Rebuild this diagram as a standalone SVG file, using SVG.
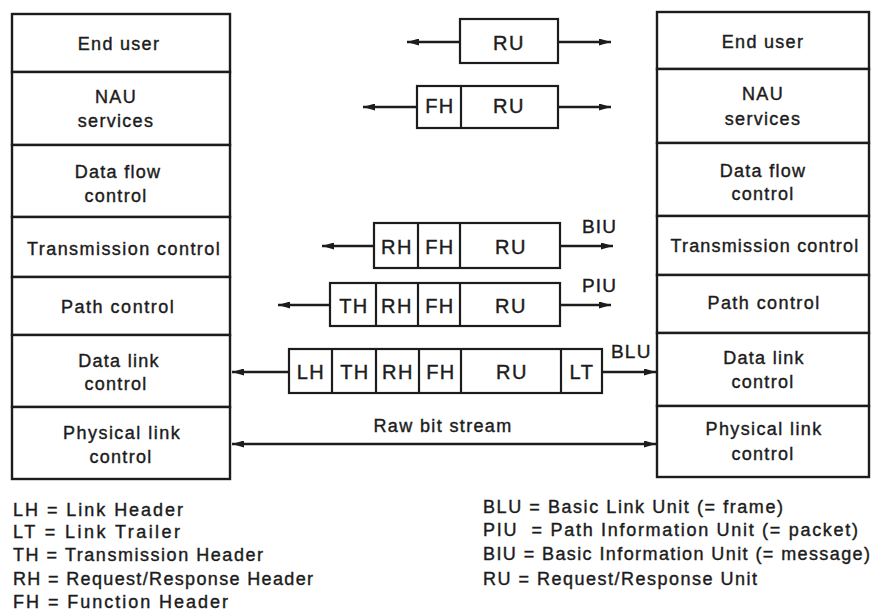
<svg xmlns="http://www.w3.org/2000/svg" width="875" height="616" viewBox="0 0 875 616">
  <defs>
    <marker id="head" viewBox="0 0 12 7" refX="12" refY="3.5" markerWidth="12" markerHeight="7" markerUnits="userSpaceOnUse" orient="auto-start-reverse">
      <path d="M0,0 L12,3.5 L0,7 z" fill="#1c1c1c"/>
    </marker>
    <style>
      .layer { fill: #fff; stroke: #1c1c1c; stroke-width: 2.4; }
      .cell { fill: #fff; stroke: #1c1c1c; stroke-width: 2.2; }
      text { font-family: "Liberation Sans", Arial, sans-serif; fill: #1c1c1c; stroke: #1c1c1c; stroke-width: 0.4; }
      .lbl { font-size: 18px; text-anchor: middle; letter-spacing: 1.3px; }
      .pk { font-size: 20px; text-anchor: middle; letter-spacing: 1.5px; }
      .tag { font-size: 19px; letter-spacing: 1.2px; }
      .leg { font-size: 18px; }
      .flow { fill: none; stroke: #1c1c1c; stroke-width: 2.5; marker-end: url(#head); }
      .flow2 { fill: none; stroke: #1c1c1c; stroke-width: 2.5; marker-start: url(#head); marker-end: url(#head); }
    </style>
  </defs>
  <rect width="875" height="616" fill="#fff"/>

  <!-- Left protocol stack -->
  <g id="left-stack">
    <g id="left-end-user"><rect class="layer" x="12" y="14" width="218" height="58"/><text class="lbl" x="119" y="50">End user</text></g>
    <g id="left-nau"><rect class="layer" x="12" y="72" width="218" height="73"/><text class="lbl" x="116" y="103">NAU</text><text class="lbl" x="116" y="127">services</text></g>
    <g id="left-data-flow"><rect class="layer" x="12" y="145" width="218" height="72"/><text class="lbl" x="118" y="178">Data flow</text><text class="lbl" x="116" y="202">control</text></g>
    <g id="left-transmission"><rect class="layer" x="12" y="217" width="218" height="60"/><text class="lbl" x="124" y="255" textLength="194" lengthAdjust="spacing">Transmission control</text></g>
    <g id="left-path"><rect class="layer" x="12" y="277" width="218" height="58"/><text class="lbl" x="118" y="313" textLength="114" lengthAdjust="spacing">Path control</text></g>
    <g id="left-data-link"><rect class="layer" x="12" y="335" width="218" height="72"/><text class="lbl" x="119" y="367">Data link</text><text class="lbl" x="116" y="390">control</text></g>
    <g id="left-physical"><rect class="layer" x="12" y="407" width="218" height="72"/><text class="lbl" x="122" y="439" textLength="118" lengthAdjust="spacing">Physical link</text><text class="lbl" x="121" y="463">control</text></g>
  </g>

  <!-- Right protocol stack -->
  <g id="right-stack">
    <g id="right-end-user"><rect class="layer" x="657" y="12" width="212" height="57"/><text class="lbl" x="763" y="48">End user</text></g>
    <g id="right-nau"><rect class="layer" x="657" y="69" width="212" height="74"/><text class="lbl" x="763" y="100">NAU</text><text class="lbl" x="763" y="125">services</text></g>
    <g id="right-data-flow"><rect class="layer" x="657" y="143" width="212" height="73"/><text class="lbl" x="763" y="177">Data flow</text><text class="lbl" x="763" y="200">control</text></g>
    <g id="right-transmission"><rect class="layer" x="657" y="216" width="212" height="59"/><text class="lbl" x="765" y="252" textLength="189" lengthAdjust="spacing">Transmission control</text></g>
    <g id="right-path"><rect class="layer" x="657" y="275" width="212" height="58"/><text class="lbl" x="764" y="309" textLength="113" lengthAdjust="spacing">Path control</text></g>
    <g id="right-data-link"><rect class="layer" x="657" y="333" width="212" height="73"/><text class="lbl" x="764" y="364">Data link</text><text class="lbl" x="763" y="388">control</text></g>
    <g id="right-physical"><rect class="layer" x="657" y="406" width="212" height="71"/><text class="lbl" x="764" y="435" textLength="117" lengthAdjust="spacing">Physical link</text><text class="lbl" x="763" y="460">control</text></g>
  </g>

  <!-- Connectors between layers -->
  <g id="connectors">
    <path class="flow" d="M460,42 H407"/>
    <path class="flow" d="M558,42 H611"/>
    <path class="flow" d="M417,107 H363"/>
    <path class="flow" d="M558,107 H611"/>
    <path class="flow" d="M374,246 H322"/>
    <path class="flow" d="M560,246 H613"/>
    <path class="flow" d="M330,305 H278"/>
    <path class="flow" d="M560,305 H611"/>
    <path class="flow" d="M289,372 H232"/>
    <path class="flow" d="M602,372 H656"/>
    <path class="flow2" d="M232,444 H656"/>
  </g>

  <!-- Data units exchanged between peer layers -->
  <g id="unit-ru">
    <rect class="cell" x="460" y="19" width="98" height="44"/>
    <text class="pk" x="509" y="50">RU</text>
  </g>
  <g id="unit-fh-ru">
    <rect class="cell" x="417" y="86" width="141" height="42"/>
    <line class="cell" x1="461" y1="86" x2="461" y2="128"/>
    <text class="pk" x="440" y="113">FH</text>
    <text class="pk" x="509" y="113">RU</text>
  </g>
  <g id="unit-biu">
    <rect class="cell" x="374" y="223" width="186" height="45"/>
    <line class="cell" x1="418" y1="223" x2="418" y2="268"/>
    <line class="cell" x1="460" y1="223" x2="460" y2="268"/>
    <text class="pk" x="397" y="254">RH</text>
    <text class="pk" x="440" y="254">FH</text>
    <text class="pk" x="511" y="254">RU</text>
    <text class="tag" x="582" y="233">BIU</text>
  </g>
  <g id="unit-piu">
    <rect class="cell" x="330" y="283" width="230" height="43"/>
    <line class="cell" x1="376" y1="283" x2="376" y2="326"/>
    <line class="cell" x1="418" y1="283" x2="418" y2="326"/>
    <line class="cell" x1="460" y1="283" x2="460" y2="326"/>
    <text class="pk" x="354" y="313">TH</text>
    <text class="pk" x="397" y="313">RH</text>
    <text class="pk" x="440" y="313">FH</text>
    <text class="pk" x="511" y="313">RU</text>
    <text class="tag" x="582" y="292">PIU</text>
  </g>
  <g id="unit-blu">
    <rect class="cell" x="289" y="349" width="313" height="44"/>
    <line class="cell" x1="332" y1="349" x2="332" y2="393"/>
    <line class="cell" x1="376" y1="349" x2="376" y2="393"/>
    <line class="cell" x1="419" y1="349" x2="419" y2="393"/>
    <line class="cell" x1="461" y1="349" x2="461" y2="393"/>
    <line class="cell" x1="561" y1="349" x2="561" y2="393"/>
    <text class="pk" x="311" y="379">LH</text>
    <text class="pk" x="355" y="379">TH</text>
    <text class="pk" x="398" y="379">RH</text>
    <text class="pk" x="441" y="379">FH</text>
    <text class="pk" x="512" y="379">RU</text>
    <text class="pk" x="582" y="379">LT</text>
    <text class="tag" x="611" y="358">BLU</text>
  </g>
  <g id="raw-bit-stream">
    <text class="lbl" x="443" y="432" textLength="139" lengthAdjust="spacing">Raw bit stream</text>
  </g>

  <!-- Abbreviation key -->
  <g id="key-left">
    <text class="leg" x="13" y="516" textLength="170" lengthAdjust="spacing">LH = Link Header</text>
    <text class="leg" x="13" y="538" textLength="167" lengthAdjust="spacing">LT = Link Trailer</text>
    <text class="leg" x="13" y="561" textLength="250" lengthAdjust="spacing">TH = Transmission Header</text>
    <text class="leg" x="13" y="585" textLength="300" lengthAdjust="spacing">RH = Request/Response Header</text>
    <text class="leg" x="13" y="608" textLength="215" lengthAdjust="spacing">FH = Function Header</text>
  </g>
  <g id="key-right">
    <text class="leg" x="483" y="513" textLength="300" lengthAdjust="spacing">BLU = Basic Link Unit (= frame)</text>
    <text class="leg" x="483" y="536" textLength="375" lengthAdjust="spacing" xml:space="preserve">PIU  = Path Information Unit (= packet)</text>
    <text class="leg" x="483" y="560" textLength="387" lengthAdjust="spacing">BIU = Basic Information Unit (= message)</text>
    <text class="leg" x="483" y="585" textLength="274" lengthAdjust="spacing">RU = Request/Response Unit</text>
  </g>
</svg>
